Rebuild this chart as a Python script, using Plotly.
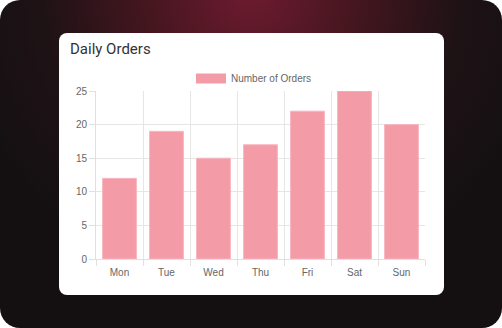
import base64
import plotly.graph_objects as go

# ---- data ----
days = ["Mon", "Tue", "Wed", "Thu", "Fri", "Sat", "Sun"]
orders = [12, 19, 15, 17, 22, 25, 20]
series_name = "Number of Orders"
y_ticks = [0, 5, 10, 15, 20, 25]
chart_title = "Daily Orders"

W, H = 502, 328
ML, MR, MT, MB = 96, 77, 91, 69
PW, PH = W - ML - MR, H - MT - MB

BAR_FILL = "#f39ca8"
BAR_EDGE = "#f7b6c0"

svg = f"""<svg xmlns='http://www.w3.org/2000/svg' width='{W}' height='{H}' viewBox='0 0 {W} {H}'>
<defs>
<radialGradient id='g' gradientUnits='userSpaceOnUse' cx='251' cy='-10' r='300'>
<stop offset='0' stop-color='#6e1b30'/>
<stop offset='0.35' stop-color='#45161f'/>
<stop offset='0.7' stop-color='#1e1215'/>
<stop offset='1' stop-color='#141012'/>
</radialGradient>
</defs>
<rect x='0' y='0' width='{W}' height='{H}' rx='20' ry='20' fill='url(#g)'/>
<rect x='59' y='33' width='385' height='262' rx='8' ry='8' fill='#ffffff'/>
</svg>"""
bg_src = "data:image/svg+xml;base64," + base64.b64encode(svg.encode()).decode()

FONT = "Liberation Sans Narrow, Arial Narrow, Liberation Sans, Arial, sans-serif"
FS = 10

fig = go.Figure()
fig.add_trace(go.Bar(
    x=days, y=orders, name=series_name, legendgroup="orders",
    marker=dict(color=BAR_FILL, line=dict(color=BAR_EDGE, width=1)),
    showlegend=False,
))
# legend entry drawn as a wide swatch (Chart.js style)
fig.add_trace(go.Scatter(
    x=[None], y=[None], mode="lines", name=series_name, legendgroup="orders",
    line=dict(color=BAR_FILL, width=10), showlegend=True, hoverinfo="skip",
))

fig.update_layout(
    width=W, height=H,
    margin=dict(l=ML, r=MR, t=MT, b=MB, pad=0, autoexpand=False),
    paper_bgcolor="#ffffff",
    plot_bgcolor="rgba(0,0,0,0)",
    bargap=0.28,
    title=dict(
        text=chart_title, xref="container", yref="container",
        x=70 / W, xanchor="left", y=1 - 48.5 / H, yanchor="middle",
        font=dict(family="Roboto, Inter, sans-serif", size=15, color="#333333"),
        pad=dict(l=0, r=0, t=0, b=0),
    ),
    legend=dict(
        orientation="h", xref="paper", yref="paper",
        x=(191 - ML) / PW, xanchor="left", y=1 + (MT - 78.5) / PH, yanchor="middle",
        font=dict(family=FONT, size=FS, color="#666666"),
        bgcolor="rgba(0,0,0,0)", itemclick=False, itemwidth=30,
    ),
    font=dict(family=FONT, size=FS, color="#666666"),
    images=[dict(
        source=bg_src, xref="paper", yref="paper",
        x=-ML / PW, y=1 + MT / PH, sizex=W / PW, sizey=H / PH,
        xanchor="left", yanchor="top", sizing="stretch", layer="below",
    )],
)

fig.update_xaxes(
    type="category", tickson="boundaries", range=[-0.5, 6.5],
    showgrid=True, gridcolor="#e6e6e6", gridwidth=1,
    ticks="outside", ticklen=6, tickcolor="#e0e0e0",
    showline=True, linecolor="#e0e0e0", linewidth=1,
    tickfont=dict(family=FONT, size=FS, color="#666666"),
    ticklabelstandoff=4,
    zeroline=False, fixedrange=True,
)
fig.update_yaxes(
    range=[0, 25], tickvals=y_ticks,
    showgrid=True, gridcolor="#e6e6e6", gridwidth=1,
    ticks="outside", ticklen=6, tickcolor="#e0e0e0",
    showline=True, linecolor="#e0e0e0", linewidth=1,
    tickfont=dict(family=FONT, size=FS, color="#666666"),
    zeroline=False, fixedrange=True,
)

fig.write_html("out.html", config={"displayModeBar": False})
